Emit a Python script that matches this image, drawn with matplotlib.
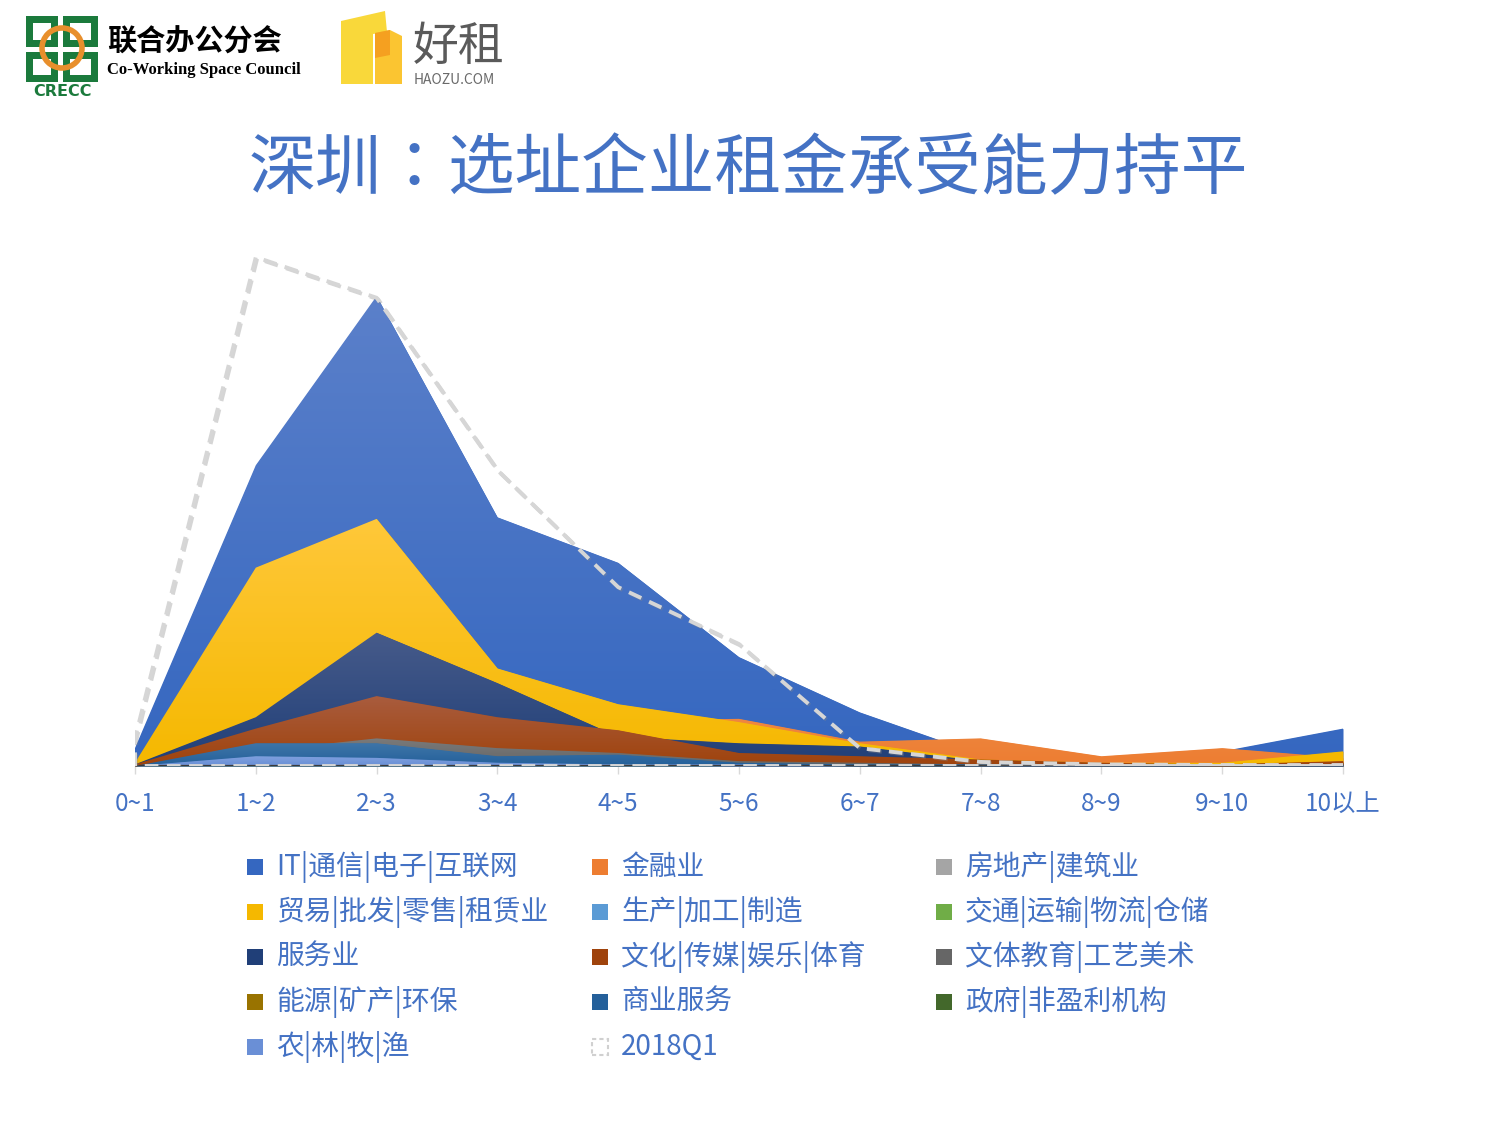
import numpy as np
import matplotlib
matplotlib.use('Agg')
import matplotlib.pyplot as plt
from matplotlib.colors import LinearSegmentedColormap
from matplotlib.patches import PathPatch, Rectangle, Ellipse, Polygon
import matplotlib.patheffects as pe

plt.rcParams['font.family'] = ['Noto Sans CJK SC', 'DejaVu Sans']

# 租金区间
cats = ['0~1', '1~2', '2~3', '3~4', '4~5', '5~6', '6~7', '7~8', '8~9', '9~10', '10以上']

names = ['IT|通信|电子|互联网', '金融业', '房地产|建筑业',
         '贸易|批发|零售|租赁业', '生产|加工|制造', '交通|运输|物流|仓储',
         '服务业', '文化|传媒|娱乐|体育', '文体教育|工艺美术',
         '能源|矿产|环保', '商业服务', '政府|非盈利机构',
         '农|林|牧|渔', '2018Q1']

it_vals = [1.1, 18.5, 28.9, 15.3, 12.5, 6.7, 3.3, 0.7, 0.4, 0.9, 2.3]
finance = [0.1, 1.8, 3.7, 2.5, 2.8, 2.9, 1.5, 1.7, 0.6, 1.1, 0.5]
estate = [0.1, 0.9, 1.5, 0.9, 0.6, 0.4, 0.2, 0.1, 0.1, 0.1, 0.1]
trade = [0.2, 12.2, 15.2, 6.0, 3.8, 2.7, 1.4, 0.4, 0.2, 0.2, 0.9]
produce = [0.1, 1.2, 1.5, 0.7, 0.5, 0.2, 0.1, 0.1, 0.0, 0.0, 0.1]
transport = [0.0, 0.6, 0.8, 0.5, 0.3, 0.1, 0.1, 0.0, 0.0, 0.0, 0.0]
service = [0.1, 3.0, 8.2, 5.1, 1.8, 1.4, 1.2, 0.3, 0.1, 0.1, 0.2]
culture = [0.1, 2.3, 4.3, 3.0, 2.2, 0.8, 0.6, 0.4, 0.2, 0.1, 0.3]
edu = [0.0, 0.9, 1.7, 1.1, 0.8, 0.3, 0.2, 0.1, 0.1, 0.1, 0.1]
energy = [0.0, 0.4, 0.6, 0.3, 0.2, 0.1, 0.0, 0.0, 0.0, 0.0, 0.0]
business = [0.0, 1.4, 1.4, 0.6, 0.7, 0.2, 0.1, 0.1, 0.1, 0.0, 0.1]
gov = [0.0, 0.2, 0.3, 0.1, 0.1, 0.0, 0.0, 0.0, 0.0, 0.0, 0.0]
agri = [0.0, 0.6, 0.5, 0.2, 0.1, 0.1, 0.0, 0.0, 0.0, 0.0, 0.0]
q1_2018 = [1.7, 31.3, 28.8, 18.2, 11.0, 7.5, 1.1, 0.25, 0.1, 0.06, 0.06]

series = [it_vals, finance, estate, trade, produce, transport, service,
          culture, edu, energy, business, gov, agri]
# (底色, 顶部渐变色)
colors = [('#3567c0', '#5b80ca'), ('#ed7d31', '#ef8a45'), ('#a5a5a5', '#b5b5b5'),
          ('#f5b800', '#ffc83a'), ('#5b9bd5', '#7aaede'), ('#70ad47', '#85bb62'),
          ('#203f78', '#475b8a'), ('#9f430c', '#a95c3e'), ('#666666', '#7a7a7a'),
          ('#997300', '#a8862a'), ('#24609a', '#3e75a8'), ('#43682b', '#577a42'),
          ('#6a8fd6', '#7ea0de')]

W, H = 1500, 1125
fig = plt.figure(figsize=(15, 11.25), dpi=100)
def fx(p):
    return p / W
def fy(p):
    return 1 - p / H

ax = fig.add_axes([fx(135), fy(766), fx(1343) - fx(135), (766 - 236) / H])
x = np.arange(len(cats))
ymax = 32.6

for i, (vals, (cb, ct)) in enumerate(zip(series, colors)):
    z = 2 + i
    poly = ax.fill_between(x, 0, vals, color=cb, lw=0, zorder=z)
    top = max(vals)
    if top <= 0:
        continue
    cmap = LinearSegmentedColormap.from_list('g%d' % i, [cb, ct])
    grad = np.linspace(0, 1, 128).reshape(-1, 1)
    im = ax.imshow(grad, extent=[x[0], x[-1], 0, top], origin='lower',
                   aspect='auto', cmap=cmap, zorder=z + 0.5, interpolation='bilinear')
    patch = PathPatch(poly.get_paths()[0], transform=ax.transData,
                      facecolor='none', edgecolor='none')
    ax.add_patch(patch)
    im.set_clip_path(patch)

# 底轴
ax.axhline(0, color='#3a3a3a', lw=1.6, zorder=20)

# 2018Q1 虚线轮廓
ox = np.concatenate([[x[0]], x, [x[-1], x[0]]])
oy = np.concatenate([[0], q1_2018, [0, 0]])
ax.plot(ox, oy, color='#d6d6d6', lw=2.8, dashes=(3.5, 2.2), zorder=21,
        solid_capstyle='butt',
        path_effects=[pe.SimpleLineShadow(offset=(1, -1), shadow_color='#888888', alpha=0.35),
                      pe.Normal()])

ax.set_xlim(0, 10)
ax.set_ylim(0, ymax)
ax.set_xticks(x)
ax.set_xticklabels(cats)
ax.tick_params(axis='x', length=6, width=1, color='#d9d9d9', pad=12,
               labelsize=17.5, labelcolor='#4472c4')
ax.set_yticks([])
for s in ax.spines.values():
    s.set_visible(False)
ax.patch.set_alpha(0)

# 标题
fig.text(fx(748), fy(171), '深圳：选址企业租金承受能力持平', ha='center', va='center',
         fontsize=48, color='#4472c4', fontweight='light',
         family=['Noto Sans CJK TC', 'DejaVu Sans'])

# 图例
col_x = [247, 592, 936]
row_y = [867, 912, 957, 1002, 1047]
for k, name in enumerate(names):
    r, c = divmod(k, 3)
    mx, my = col_x[c], row_y[r]
    if k < len(series):
        rect = Rectangle((fx(mx), fy(my + 8)), 16 / W, 16 / H, transform=fig.transFigure,
                         facecolor=colors[k][0], edgecolor='none')
    else:
        rect = Rectangle((fx(mx), fy(my + 8)), 16 / W, 16 / H, transform=fig.transFigure,
                         facecolor='white', edgecolor='#d0d0d0', lw=1.5, linestyle=(0, (2, 1.5)))
    fig.patches.append(rect)
    fig.text(fx(mx + 29), fy(my), name, ha='left', va='center', fontsize=20,
             color='#4472c4')

# CRECC 标志
green = '#1b7a3c'
quads = [(26, 16, 58, 47), (63, 16, 98, 47), (26, 52, 58, 82), (63, 52, 98, 82)]
for (x0, y0, x1, y1) in quads:
    fig.patches.append(Rectangle((fx(x0), fy(y1)), (x1 - x0) / W, (y1 - y0) / H,
                                 transform=fig.transFigure, facecolor=green, edgecolor='none'))
    fig.patches.append(Rectangle((fx(x0 + 7), fy(y1 - 7)), (x1 - x0 - 14) / W, (y1 - y0 - 14) / H,
                                 transform=fig.transFigure, facecolor='white', edgecolor='none'))
fig.patches.append(Ellipse((fx(62), fy(48)), 40 / W, 40 / H, transform=fig.transFigure,
                           facecolor='none', edgecolor='#e88f2c', lw=4))
fig.text(fx(107), fy(42), '联合办公分会', ha='left', va='center', fontsize=21,
         fontweight='bold', color='black')
fig.text(fx(107), fy(70), 'Co-Working Space Council', ha='left', va='center', fontsize=12,
         fontweight='bold', color='black', family='Liberation Serif')
fig.text(fx(62), fy(92), 'CRECC', ha='center', va='center', fontsize=11.5,
         fontweight='bold', color=green, family='DejaVu Sans')

# 好租 标志
fig.patches.append(Polygon([(fx(341), fy(84)), (fx(341), fy(21)), (fx(385), fy(11)),
                            (fx(387), fy(32)), (fx(373), fy(34)), (fx(373), fy(84))],
                           closed=True, transform=fig.transFigure, facecolor='#f9d83a', edgecolor='none'))
fig.patches.append(Polygon([(fx(375), fy(84)), (fx(375), fy(33)), (fx(390), fy(30)),
                            (fx(402), fy(36)), (fx(402), fy(84))],
                           closed=True, transform=fig.transFigure, facecolor='#fbc531', edgecolor='none'))
fig.patches.append(Polygon([(fx(375), fy(33)), (fx(390), fy(30)), (fx(390), fy(55)), (fx(375), fy(58))],
                           closed=True, transform=fig.transFigure, facecolor='#f5a020', edgecolor='none'))
fig.text(fx(413), fy(47), '好租', ha='left', va='center', fontsize=33, color='#5a5a5a')
fig.text(fx(414), fy(80), 'HAOZU.COM', ha='left', va='center', fontsize=10, color='#6a6a6a')

fig.savefig('out.png', dpi=100, facecolor='white')
